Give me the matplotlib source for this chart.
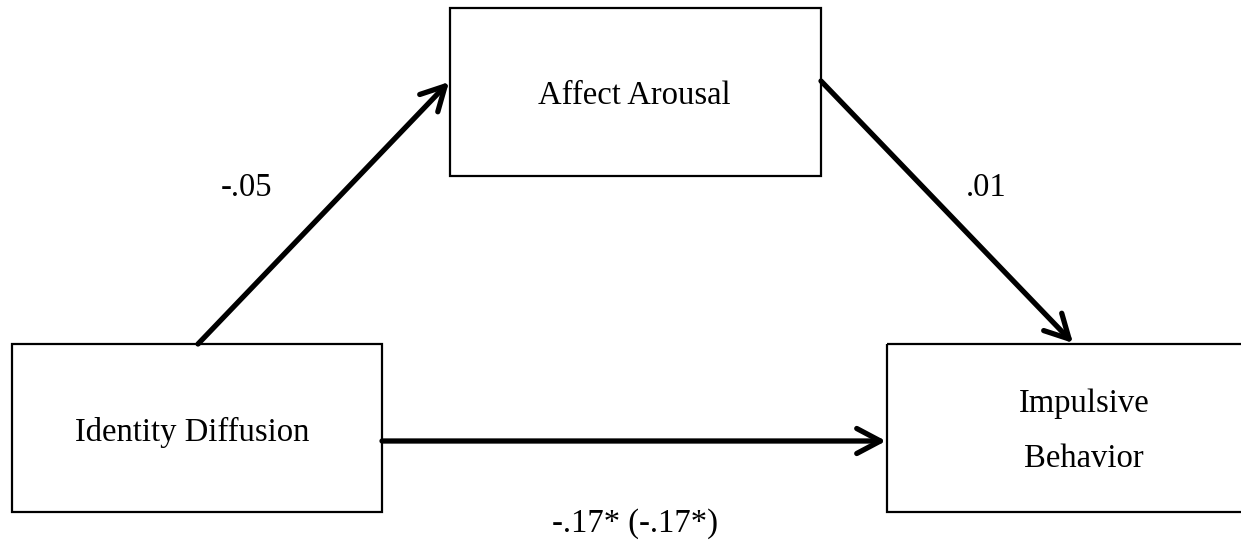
import matplotlib
matplotlib.use('Agg')
import matplotlib.pyplot as plt
from matplotlib.patches import Rectangle, FancyArrowPatch

# Node labels and path coefficients
nodes = ['Identity Diffusion', 'Affect Arousal', 'Impulsive\nBehavior']
coefs = ['-.05', '.01', '-.17* (-.17*)']

plt.rcParams['font.family'] = ['Liberation Serif', 'DejaVu Serif']

fig = plt.figure(figsize=(12.41, 5.40), dpi=100)
ax = fig.add_axes([0, 0, 1, 1])
ax.set_xlim(0, 1241)
ax.set_ylim(540, 0)
ax.axis('off')

# layout (pixels): x0, y0, x1, y1 and text anchor (x, first baseline)
boxes = {
    'Identity Diffusion': ((12, 344, 382, 512), (192, 441)),
    'Affect Arousal': ((450, 8, 821, 176), (634, 104)),
    'Impulsive\nBehavior': ((887, 344, 1283, 512), (1084, 412)),
}
line_step = 55
for name in nodes:
    (x0, y0, x1, y1), (tx, ty) = boxes[name]
    ax.add_patch(Rectangle((x0, y0), x1 - x0, y1 - y0, fill=False,
                           edgecolor='black', lw=1.6))
    for i, line in enumerate(name.split('\n')):
        ax.text(tx, ty + i * line_step, line, ha='center', va='baseline',
                fontsize=23.5)

# arrow endpoints for each path
ends = [((198, 344), (449, 82)),
        ((821, 81), (1073, 343)),
        ((382, 441), (886, 441))]
label_pos = [(247, 196), (986, 196), (635, 532)]

for (a, b), c, (lx, ly) in zip(ends, coefs, label_pos):
    arr = FancyArrowPatch(a, b, arrowstyle='->,head_length=17,head_width=9',
                          mutation_scale=1, lw=3.8, color='black',
                          shrinkA=0, shrinkB=0, capstyle='round',
                          joinstyle='round')
    ax.add_patch(arr)
    ax.text(lx, ly, c, ha='center', va='baseline', fontsize=23.5)

fig.savefig('out.png', dpi=100)
